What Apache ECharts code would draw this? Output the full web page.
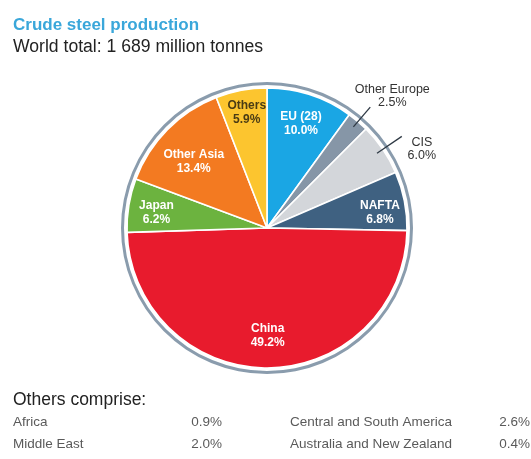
<!DOCTYPE html>
<html>
<head>
<meta charset="utf-8">
<script src="https://cdn.jsdelivr.net/npm/echarts@6/dist/echarts.min.js"></script>
<style>
  html, body { margin: 0; padding: 0; background: #fff; }
  #chart { width: 531px; height: 459px; }
</style>
</head>
<body>
<div id="chart"></div>
<script>
// Crude steel production by region (share of world total, %)
const regions = ['EU (28)', 'Other Europe', 'CIS', 'NAFTA', 'China', 'Japan', 'Other Asia', 'Others'];
const shares = [10.0, 2.5, 6.0, 6.8, 49.2, 6.2, 13.4, 5.9];
const regionColors = ['#1aa6e4', '#8696a7', '#d3d6da', '#3f6181', '#e81b2d', '#6cb33f', '#f37a21', '#fcc52f'];

// Breakdown of the "Others" slice
const otherNames = ['Africa', 'Middle East', 'Central and South America', 'Australia and New Zealand'];
const otherShares = [0.9, 2.0, 2.6, 0.4];

const titleText = 'Crude steel production';
const subtitleText = 'World total: 1 689 million tonnes';
const footHeader = 'Others comprise:';

// Slices whose labels sit outside with a leader line
const calloutRegions = ['Other Europe', 'CIS'];

const FONT = "'Liberation Sans', Arial, Helvetica, sans-serif";
const CENTER = [267, 228];

const pct = v => v.toFixed(1) + '%';
const labelText = p => p.name + '\n' + pct(p.value);

// small nudges for the inside labels (px)
const innerNudge = {
  'Others': [0, -7],
  'Other Asia': [5, 11],
  'NAFTA': [5, 6],
  'China': [0, -2],
  'Japan': [-2, 3]
};
// where the callout text sits relative to the end of its leader line
const calloutNudge = {
  'Other Europe': [22, -11],
  'CIS': [20, 13]
};
const calloutLineLen = { 'Other Europe': 26, 'CIS': 30 };

const chart = echarts.init(document.getElementById('chart'), null, { renderer: 'canvas' });

const sliceData = regions.map((n, i) => ({
  name: n,
  value: shares[i],
  itemStyle: { color: regionColors[i] }
}));

const innerLabelData = regions.map((n, i) => ({
  name: n,
  value: shares[i],
  itemStyle: { color: 'rgba(0,0,0,0)' },
  label: {
    show: calloutRegions.indexOf(n) < 0,
    color: n === 'Others' ? '#4a3c14' : '#ffffff'
  }
}));

const calloutData = regions.map((n, i) => {
  const on = calloutRegions.indexOf(n) >= 0;
  return {
    name: n,
    value: shares[i],
    itemStyle: { color: 'rgba(0,0,0,0)' },
    label: { show: on },
    labelLine: { show: on, length: calloutLineLen[n] || 20, length2: 0 }
  };
});

// footnote table
const footGraphics = [
  {
    type: 'text', x: 13, y: 400,
    style: { text: footHeader, font: '17.5px ' + FONT, fill: '#222', verticalAlign: 'middle' }
  }
];
const colNameX = [13, 290];
const colValueX = [222, 530];
const rowY = [422, 444];
otherNames.forEach((n, i) => {
  const col = Math.floor(i / 2), row = i % 2;
  footGraphics.push({
    type: 'text', x: colNameX[col], y: rowY[row],
    style: { text: n, font: '13.5px ' + FONT, fill: '#5a5a5a', verticalAlign: 'middle' }
  });
  footGraphics.push({
    type: 'text', x: colValueX[col], y: rowY[row],
    style: { text: pct(otherShares[i]), font: '13.5px ' + FONT, fill: '#5a5a5a', align: 'right', verticalAlign: 'middle' }
  });
});

const option = {
  backgroundColor: '#ffffff',
  animation: false,
  graphic: [
    {
      type: 'text', x: 13, y: 25,
      style: { text: titleText, font: 'bold 17px ' + FONT, fill: '#3aa7da', verticalAlign: 'middle' }
    },
    {
      type: 'text', x: 13, y: 47,
      style: { text: subtitleText, font: '17.6px ' + FONT, fill: '#222', verticalAlign: 'middle' }
    }
  ].concat(footGraphics),
  series: [
    {
      // thin outer ring
      type: 'pie',
      z: 1,
      center: CENTER,
      radius: [143, 146],
      silent: true,
      data: [{ value: 1, itemStyle: { color: '#8a9cad' } }],
      label: { show: false },
      labelLine: { show: false },
      emphasis: { disabled: true }
    },
    {
      type: 'pie',
      z: 2,
      center: CENTER,
      radius: [0, 140],
      startAngle: 90,
      clockwise: true,
      silent: true,
      avoidLabelOverlap: false,
      data: sliceData,
      itemStyle: { borderColor: '#ffffff', borderWidth: 1.6 },
      label: { show: false },
      labelLine: { show: false },
      emphasis: { disabled: true }
    },
    {
      // inside labels
      type: 'pie',
      z: 5,
      center: CENTER,
      radius: [74, 140],
      startAngle: 90,
      clockwise: true,
      silent: true,
      avoidLabelOverlap: false,
      data: innerLabelData,
      label: {
        position: 'inside',
        formatter: labelText,
        fontFamily: FONT,
        fontSize: 12,
        fontWeight: 'bold',
        lineHeight: 14,
        align: 'center'
      },
      labelLine: { show: false },
      labelLayout: p => {
        const n = regions[p.dataIndex];
        const d = innerNudge[n] || [0, 0];
        return { dx: d[0], dy: d[1] };
      },
      emphasis: { disabled: true }
    },
    {
      // callout labels with leader lines
      type: 'pie',
      z: 6,
      center: CENTER,
      radius: [0, 133],
      startAngle: 90,
      clockwise: true,
      silent: true,
      avoidLabelOverlap: false,
      data: calloutData,
      label: {
        position: 'outside',
        formatter: labelText,
        fontFamily: FONT,
        fontSize: 12.5,
        color: '#333',
        lineHeight: 13
      },
      labelLine: { lineStyle: { color: '#2e3944', width: 1.3 } },
      labelLayout: p => {
        const n = regions[p.dataIndex];
        const pts = p.labelLinePoints;
        if (!pts || !calloutNudge[n]) return {};
        const end = pts[pts.length - 1];
        const d = calloutNudge[n];
        return {
          x: end[0] + d[0],
          y: end[1] + d[1],
          align: 'center',
          verticalAlign: 'middle',
          labelLinePoints: pts
        };
      },
      emphasis: { disabled: true }
    }
  ]
};

chart.setOption(option);
</script>
</body>
</html>
